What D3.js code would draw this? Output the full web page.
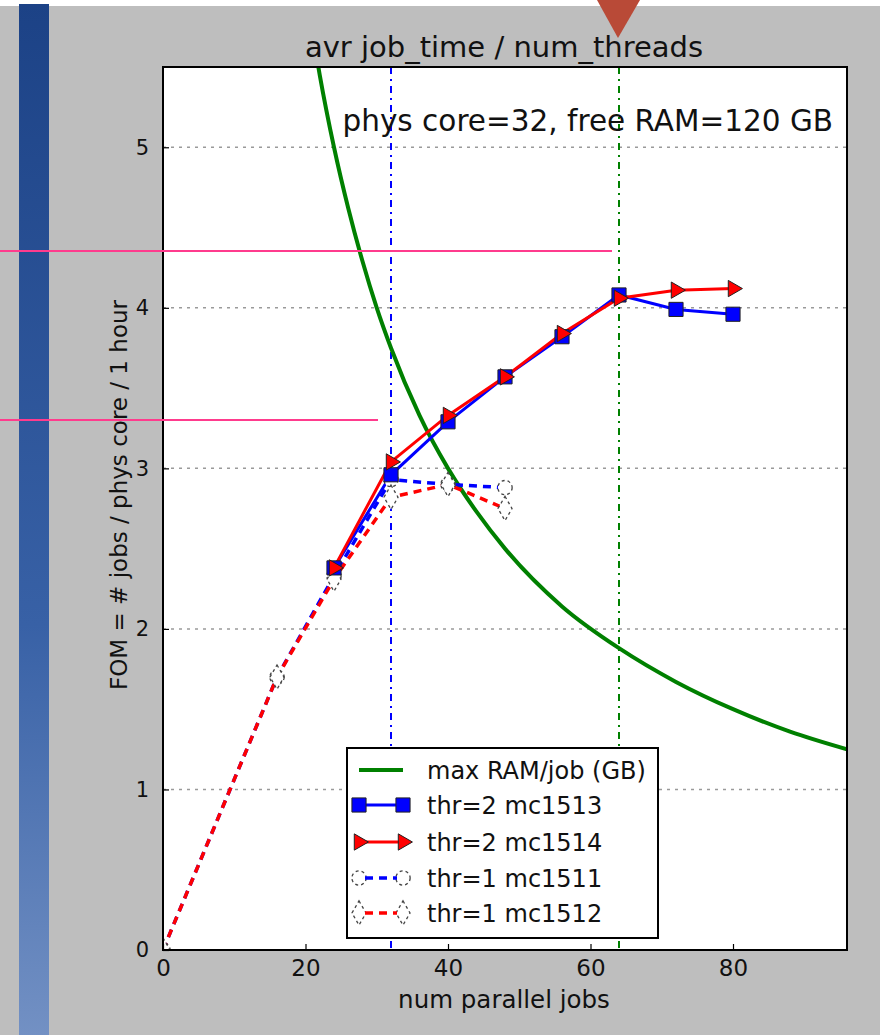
<!DOCTYPE html>
<html>
<head>
<meta charset="utf-8">
<script src="https://cdn.jsdelivr.net/npm/d3@7"></script>
<style>
  html, body { margin: 0; padding: 0; background: #bebebe; }
  svg text { font-family: "DejaVu Sans", sans-serif; fill: #111; }
</style>
</head>
<body>
<div id="chart"></div>
<script>
// values
const xTicks = [0, 20, 40, 60, 80];
const yTicks = [0, 1, 2, 3, 4, 5];

const ramJobs = [20, 22, 24, 26, 28, 30, 32, 36, 40, 44, 48, 56, 64, 72, 80, 88, 96];
const maxRamPerJob = [6.0, 5.45, 5.0, 4.62, 4.29, 4.0, 3.75, 3.33, 3.0, 2.73, 2.5, 2.14, 1.88, 1.67, 1.5, 1.36, 1.25];

const jobsThr2 = [24, 32, 40, 48, 56, 64, 72, 80];
const fomMc1513 = [2.38, 2.96, 3.29, 3.57, 3.82, 4.08, 3.99, 3.96];
const fomMc1514 = [2.38, 3.04, 3.33, 3.57, 3.84, 4.06, 4.11, 4.12];

const jobsThr1 = [0, 16, 24, 32, 40, 48];
const fomMc1511 = [0, 1.70, 2.33, 2.93, 2.90, 2.88];
const fomMc1512 = [0, 1.70, 2.31, 2.82, 2.90, 2.75];

const physCores = 32;
const freeRamJobs = 64;

const legendLabels = ["max RAM/job (GB)", "thr=2  mc1513", "thr=2  mc1514", "thr=1  mc1511", "thr=1  mc1512"];

const width = 880, height = 1035;
const pLeft = 163, pRight = 847, pTop = 67, pBottom = 950;

const svg = d3.select('#chart').append('svg')
  .attr('width', width)
  .attr('height', height);

// slide background bits
const defs = svg.append('defs');
const grad = defs.append('linearGradient').attr('id', 'stripe').attr('x1', 0).attr('x2', 0).attr('y1', 0).attr('y2', 1);
grad.append('stop').attr('offset', '0%').attr('stop-color', '#1c4286');
grad.append('stop').attr('offset', '60%').attr('stop-color', '#3861a6');
grad.append('stop').attr('offset', '100%').attr('stop-color', '#7391c4');
defs.append('clipPath').attr('id', 'plotClip')
  .append('rect').attr('x', pLeft).attr('y', pTop).attr('width', pRight - pLeft).attr('height', pBottom - pTop);

svg.append('rect').attr('width', width).attr('height', height).attr('fill', '#bebebe');
svg.append('rect').attr('width', width).attr('height', 6).attr('fill', '#ffffff');
svg.append('rect').attr('x', 19).attr('y', 4).attr('width', 30).attr('height', height).attr('fill', 'url(#stripe)');

const x = d3.scaleLinear().domain([0, 96]).range([pLeft, pRight]);
const y = d3.scaleLinear().domain([0, 5.5]).range([pBottom, pTop]);

svg.append('rect')
  .attr('x', pLeft).attr('y', pTop)
  .attr('width', pRight - pLeft).attr('height', pBottom - pTop)
  .attr('fill', '#ffffff');

// horizontal grid
svg.append('g')
  .selectAll('line')
  .data(yTicks.slice(1))
  .join('line')
  .attr('x1', pLeft).attr('x2', pRight)
  .attr('y1', d => y(d)).attr('y2', d => y(d))
  .attr('stroke', '#9a9a9a')
  .attr('stroke-width', 1.5)
  .attr('stroke-dasharray', '3,5');

const plot = svg.append('g').attr('clip-path', 'url(#plotClip)');

// reference verticals
plot.append('line')
  .attr('x1', x(physCores)).attr('x2', x(physCores))
  .attr('y1', pTop).attr('y2', pBottom)
  .attr('stroke', '#0000ff').attr('stroke-width', 2)
  .attr('stroke-dasharray', '7,5,2,5');
plot.append('line')
  .attr('x1', x(freeRamJobs)).attr('x2', x(freeRamJobs))
  .attr('y1', pTop).attr('y2', pBottom)
  .attr('stroke', '#008000').attr('stroke-width', 2)
  .attr('stroke-dasharray', '7,5,2,5');

const line = d3.line().x(d => x(d[0])).y(d => y(d[1]));

// green RAM curve
plot.append('path')
  .attr('d', line.curve(d3.curveMonotoneX)(d3.zip(ramJobs, maxRamPerJob)))
  .attr('fill', 'none')
  .attr('stroke', '#008000')
  .attr('stroke-width', 4);
line.curve(d3.curveLinear);

// thr=1 dashed series
plot.append('path')
  .attr('d', line(d3.zip(jobsThr1, fomMc1511)))
  .attr('fill', 'none').attr('stroke', '#0000ff').attr('stroke-width', 3.5)
  .attr('stroke-dasharray', '8,6');
plot.append('path')
  .attr('d', line(d3.zip(jobsThr1, fomMc1512)))
  .attr('fill', 'none').attr('stroke', '#ff0000').attr('stroke-width', 3.5)
  .attr('stroke-dasharray', '8,6');

// thr=2 solid series
plot.append('path')
  .attr('d', line(d3.zip(jobsThr2, fomMc1513)))
  .attr('fill', 'none').attr('stroke', '#0000ff').attr('stroke-width', 3);
plot.append('path')
  .attr('d', line(d3.zip(jobsThr2, fomMc1514)))
  .attr('fill', 'none').attr('stroke', '#ff0000').attr('stroke-width', 3);

// markers
const circleSym = d3.symbol().type(d3.symbolCircle).size(160);
const diamondSym = d3.symbol().type(d3.symbolDiamond).size(170);
const squareSym = d3.symbol().type(d3.symbolSquare).size(200);
const triSym = d3.symbol().type(d3.symbolTriangle).size(115);

function openMarkers(xs, ys, sym) {
  plot.append('g').selectAll('path')
    .data(d3.zip(xs, ys))
    .join('path')
    .attr('d', sym)
    .attr('transform', d => `translate(${x(d[0])},${y(d[1])})`)
    .attr('fill', '#ffffff')
    .attr('stroke', '#444')
    .attr('stroke-width', 1.3)
    .attr('stroke-dasharray', '3,3');
}
openMarkers(jobsThr1, fomMc1511, circleSym);
openMarkers(jobsThr1, fomMc1512, diamondSym);

plot.append('g').selectAll('path')
  .data(d3.zip(jobsThr2, fomMc1513))
  .join('path')
  .attr('d', squareSym)
  .attr('transform', d => `translate(${x(d[0])},${y(d[1])})`)
  .attr('fill', '#0000ff').attr('stroke', '#222').attr('stroke-width', 1);
plot.append('g').selectAll('path')
  .data(d3.zip(jobsThr2, fomMc1514))
  .join('path')
  .attr('d', triSym)
  .attr('transform', d => `translate(${x(d[0])},${y(d[1])}) rotate(90)`)
  .attr('fill', '#ff0000').attr('stroke', '#222').attr('stroke-width', 1);

// axes
const xAxis = svg.append('g')
  .attr('transform', `translate(0,${pBottom})`)
  .call(d3.axisBottom(x).tickValues(xTicks).tickFormat(d3.format('d'))
    .tickSizeInner(-6).tickSizeOuter(0).tickPadding(10));
const yAxis = svg.append('g')
  .attr('transform', `translate(${pLeft},0)`)
  .call(d3.axisLeft(y).tickValues(yTicks).tickFormat(d3.format('d'))
    .tickSizeInner(-6).tickSizeOuter(0).tickPadding(14));
[xAxis, yAxis].forEach(a => {
  a.select('.domain').remove();
  a.selectAll('.tick line').attr('stroke', '#000').attr('stroke-width', 1.2);
  a.selectAll('.tick text').style('font-family', '"DejaVu Sans", sans-serif').attr('fill', '#111');
});
xAxis.selectAll('.tick text').style('font-size', '23px');
yAxis.selectAll('.tick text').style('font-size', '21px');

// frame
svg.append('rect')
  .attr('x', pLeft).attr('y', pTop)
  .attr('width', pRight - pLeft).attr('height', pBottom - pTop)
  .attr('fill', 'none').attr('stroke', '#000').attr('stroke-width', 2);

// titles
svg.append('text')
  .text('avr job_time / num_threads')
  .attr('x', 504).attr('y', 57)
  .attr('text-anchor', 'middle')
  .style('font-size', '29px');
svg.append('text')
  .text(`phys core=${physCores}, free RAM=120 GB`)
  .attr('x', 833).attr('y', 131)
  .attr('text-anchor', 'end')
  .style('font-size', '29.5px');
svg.append('text')
  .text('num parallel jobs')
  .attr('x', 504).attr('y', 1008)
  .attr('text-anchor', 'middle')
  .style('font-size', '24.5px');
svg.append('text')
  .text('FOM = # jobs / phys core / 1 hour')
  .attr('transform', 'translate(127,495) rotate(-90)')
  .attr('text-anchor', 'middle')
  .style('font-size', '23px');

// legend
const lg = svg.append('g').attr('transform', 'translate(347,748)');
lg.append('rect').attr('width', 311).attr('height', 190)
  .attr('fill', '#ffffff').attr('stroke', '#000').attr('stroke-width', 2);
const rowY = [22, 57, 94, 130, 165];
const rows = lg.selectAll('g.row').data(legendLabels).join('g')
  .attr('transform', (d, i) => `translate(0,${rowY[i]})`);
rows.append('text').text(d => d)
  .attr('x', 80).attr('y', 9)
  .style('font-size', '24px');
const r0 = d3.select(rows.nodes()[0]);
r0.append('line').attr('x1', 12).attr('x2', 56).attr('stroke', '#008000').attr('stroke-width', 4);
const r1 = d3.select(rows.nodes()[1]);
r1.append('line').attr('x1', 12).attr('x2', 56).attr('stroke', '#0000ff').attr('stroke-width', 3);
[12, 56].forEach(px => r1.append('path').attr('d', squareSym).attr('transform', `translate(${px},0)`)
  .attr('fill', '#0000ff').attr('stroke', '#222'));
const r2 = d3.select(rows.nodes()[2]);
r2.append('line').attr('x1', 12).attr('x2', 56).attr('stroke', '#ff0000').attr('stroke-width', 3);
[12, 56].forEach(px => r2.append('path').attr('d', triSym).attr('transform', `translate(${px},0) rotate(90)`)
  .attr('fill', '#ff0000').attr('stroke', '#222'));
[[3, circleSym, '#0000ff'], [4, diamondSym, '#ff0000']].forEach(([i, sym, col]) => {
  const r = d3.select(rows.nodes()[i]);
  [12, 56].forEach(px => r.append('path').attr('d', sym).attr('transform', `translate(${px},0)`)
    .attr('fill', '#ffffff').attr('stroke', '#444').attr('stroke-width', 1.3).attr('stroke-dasharray', '3,3'));
  r.append('line').attr('x1', 18).attr('x2', 50).attr('stroke', col).attr('stroke-width', 3.5)
    .attr('stroke-dasharray', '8,6');
});

// slide annotations
svg.append('line').attr('x1', 0).attr('x2', 612).attr('y1', 251).attr('y2', 251)
  .attr('stroke', '#ff3b8d').attr('stroke-width', 2);
svg.append('line').attr('x1', 0).attr('x2', 378).attr('y1', 420).attr('y2', 420)
  .attr('stroke', '#ff3b8d').attr('stroke-width', 2);
svg.append('path').attr('d', 'M597,0 L640,0 L618,38 Z').attr('fill', '#b94a37');
</script>
</body>
</html>
